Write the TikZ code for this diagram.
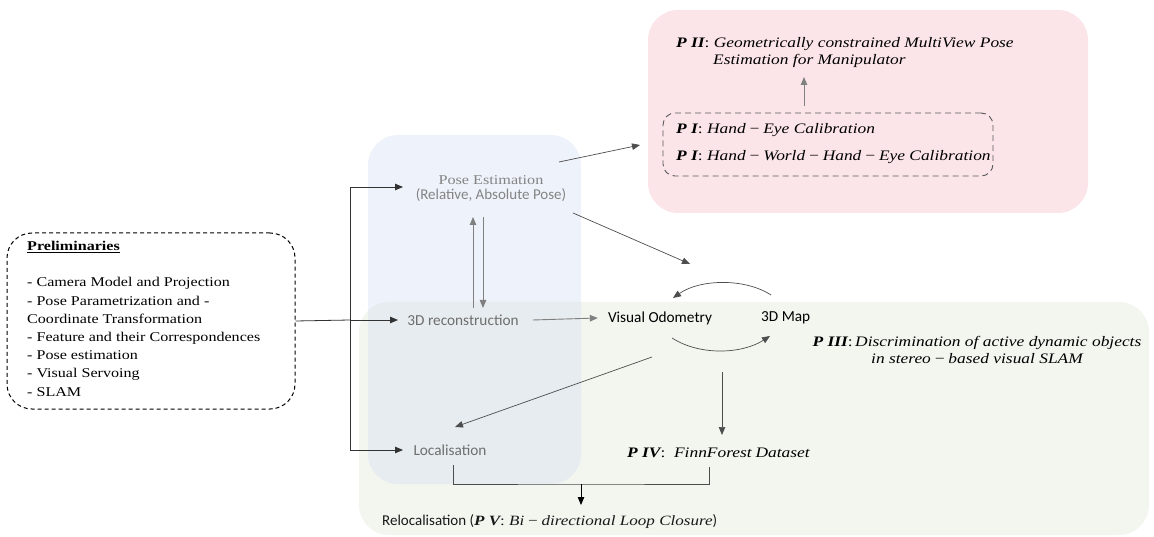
\documentclass[tikz,border=0pt]{standalone}
\usepackage{fontspec}
\setmainfont{Liberation Serif}[FakeStretch=1.2]
\newfontfamily\calibri{Carlito}
\usetikzlibrary{arrows.meta,calc}
\definecolor{pinkbg}{HTML}{FBE5E9}
\definecolor{bluebg}{HTML}{EEF2FA}
\definecolor{greenbg}{HTML}{F3F6EF}
\definecolor{overlapbg}{HTML}{E6ECEF}
\definecolor{linegray}{HTML}{4D4D4D}
\definecolor{lightline}{HTML}{808080}
\definecolor{txtgray}{HTML}{6E6E6E}
\newcommand{\mminus}{\hspace{0.2em}−\hspace{0.2em}}
\begin{document}
\begin{tikzpicture}[x=1pt,y=-1pt,
  every node/.style={inner sep=3pt},
  tip/.style={-{Triangle[length=8pt,width=6.5pt]}},
  arr/.style={draw=linegray, line width=0.7pt, tip},
  arrlight/.style={draw=lightline, line width=0.9pt, tip},
  arrdark/.style={draw=black!80, line width=0.8pt, tip},
  cal/.style={font=\calibri\fontsize{15.3}{17}\selectfont},
  ptext/.style={font=\fontsize{14.5}{17}\selectfont\itshape},
  region/.style={rounded corners=30pt}]
\useasboundingbox (0,0) rectangle (1154,537);
% background regions
\fill[greenbg, region] (359,302) rectangle (1149,535);
\fill[bluebg, region] (368,135) rectangle (581,484);
\begin{scope}
  \clip[region] (359,302) rectangle (1149,535);
  \fill[overlapbg, region] (368,135) rectangle (581,484);
\end{scope}
\fill[pinkbg, region] (648,10) rectangle (1088,213);

% preliminaries
\node[draw=black, dashed, dash pattern=on 4pt off 3pt, line width=1pt, rounded corners=25pt,
  minimum width=288pt, minimum height=176pt] (prelim) at (151,321) {};
\node[anchor=north west, align=left, font=\fontsize{13.4}{18.2}\selectfont, inner sep=0pt] (prelimtext) at (27,241)
  {\underline{\textbf{Preliminaries}}\\[18.2pt]
   - Camera Model and Projection\\
   - Pose Parametrization and -\\
   Coordinate Transformation\\
   - Feature and their Correspondences\\
   - Pose estimation\\
   - Visual Servoing\\
   - SLAM};

% main nodes
\node[align=center, text=txtgray!85, inner sep=2pt] (pose) at (491,189)
  {{\fontsize{13.5}{16}\selectfont Pose Estimation}\\[3pt]{\calibri\fontsize{15}{16}\selectfont (Relative, Absolute Pose)}};
\node[cal, text=txtgray] (recon) at (463,320) {3D reconstruction};
\node[cal, text=black] (vo) at (660,318) {Visual Odometry};
\node[cal, text=black, anchor=west] (map) at (758,318) {3D Map};
\node[cal, text=txtgray] (loc) at (450,450) {Localisation};
\node[ptext, anchor=west] (p4) at (624,453) {\textbf{P IV}{\upshape:}\ \ FinnForest\hspace{-0.5pt} Dataset};
\node[anchor=west, text=black!90] (reloc) at (379,522)
  {{\calibri\fontsize{15}{16}\selectfont Relocalisation (}{\itshape\fontsize{14.2}{17}\selectfont\textbf{P V}{\upshape:}\ Bi\mminus directional Loop Closure}{\calibri\fontsize{15}{16}\selectfont )}};
\node[ptext, align=center] (p3) at (977,350)
  {\textbf{P III}{\upshape:}\,Discrimination of active dynamic objects\\in stereo\mminus based visual SLAM};

% pink region contents
\node[ptext, anchor=west, align=left] (p2) at (673,53)
  {\textbf{P II}{\upshape:}\ Geometrically constrained MultiView Pose\\\hspace{37pt}Estimation for Manipulator};
\node[draw=black!65, dashed, dash pattern=on 6pt off 4pt, line width=0.9pt, rounded corners=12pt,
  minimum width=330pt, minimum height=63pt] (p1box) at (828,144.5) {};
\node[ptext, anchor=west] (p1a) at (673,130) {\textbf{P I}{\upshape:}\ Hand\mminus Eye Calibration};
\node[ptext, anchor=west] (p1b) at (673,157) {\textbf{P I}{\upshape:}\ Hand\mminus World\mminus Hand\mminus Eye Calibration};

% connector points
\coordinate (jn) at (350,320);
\coordinate (toPose) at (403,187);
\coordinate (toLoc) at (403,450);
\coordinate (toRecon) at (398,320);
\coordinate (upA) at (473,308);
\coordinate (upB) at (473,217);
\coordinate (dnA) at (483,217);
\coordinate (dnB) at (483,308);
\coordinate (poseOut1) at (559,162);
\coordinate (pinkIn) at (640,145);
\coordinate (poseOut2) at (573,213);
\coordinate (slamIn) at (690,264);
\coordinate (mapTop) at (771,295);
\coordinate (voTop) at (673,298);
\coordinate (voBot) at (672,338);
\coordinate (mapBot) at (770,336);
\coordinate (voOut) at (652,357);
\coordinate (locIn) at (455,427);
\coordinate (voDown) at (722,372);
\coordinate (p4In) at (722,435);
\coordinate (p1Out) at (804,106);
\coordinate (p2In) at (804,77);
\coordinate (locOut) at (453,465);
\coordinate (p4Out) at (709,467);
\coordinate (merge) at (581,484);
\coordinate (relocIn) at (581,505);

% connectors
\draw[black!80, line width=0.8pt] (prelim.east) -- (jn);
\draw[arrdark] (jn) -- (toRecon);
\draw[arrdark] (jn) |- (toPose);
\draw[arrdark] (jn) |- (toLoc);
\draw[arrlight] (upA) -- (upB);
\draw[arrlight] (dnA) -- (dnB);
\draw[arrlight] ($(recon.east)+(11,0)$) -- ($(vo.west)+(-7,0)$);
\draw[arr] (poseOut1) -- (pinkIn);
\draw[arr] (poseOut2) -- (slamIn);
\draw[arr] (mapTop) .. controls (745,278) and (700,279) .. (voTop);
\draw[arr] (voBot) .. controls (700,356) and (742,354) .. (mapBot);
\draw[arr] (voOut) -- (locIn);
\draw[arr] (voDown) -- (p4In);
\draw[arrlight] (p1Out) -- (p2In);
\draw[linegray, line width=0.8pt] (locOut) |- (merge) -| (p4Out);
\draw[draw=black, line width=0.8pt, tip] (merge) -- (relocIn);
\end{tikzpicture}
\end{document}
